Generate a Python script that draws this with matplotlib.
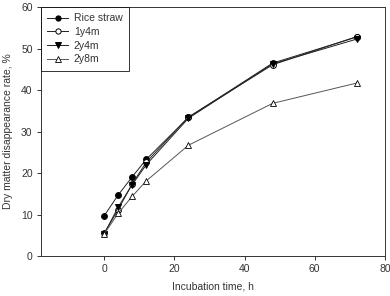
import numpy as np
import matplotlib
matplotlib.use("Agg")
import matplotlib.pyplot as plt

plt.rcParams["font.family"] = ["Liberation Sans", "DejaVu Sans"]

# incubation times (h) and disappearance rates (%)
hours = [0, 4, 8, 12, 24, 48, 72]
rice_straw = [9.7, 14.7, 19.1, 23.3, 33.4, 46.5, 52.8]
y1m4 = [5.5, 11.2, 17.4, 22.6, 33.5, 46.1, 52.9]
y2m4 = [5.3, 11.8, 17.2, 22.0, 33.2, 46.3, 52.3]
y2m8 = [5.3, 10.3, 14.4, 18.1, 26.7, 36.8, 41.7]

fig = plt.figure(figsize=(3.9, 2.96), dpi=100)
ax = fig.add_axes([0.105, 0.135, 0.882, 0.841])

kw = dict(color="#222222", lw=0.7, ms=4.2, mec="black", mew=0.7)
ax.plot(hours, rice_straw, marker="o", mfc="black", label="Rice straw", **kw)
ax.plot(hours, y1m4, marker="o", mfc="white", label="1y4m", **kw)
ax.plot(hours, y2m4, marker="v", mfc="black", label="2y4m", **kw)
ax.plot(hours, y2m8, marker="^", mfc="white", label="2y8m", color="#555555",
        lw=0.7, ms=4.5, mec="black", mew=0.6)

ax.set_xlim(-18, 80)
ax.set_ylim(0, 60)
ax.set_xticks([0, 20, 40, 60, 80])
ax.set_yticks([0, 10, 20, 30, 40, 50, 60])
ax.tick_params(direction="out", length=3, width=0.7, labelsize=7.5, pad=3,
               colors="#333333")
for s in ax.spines.values():
    s.set_linewidth(0.7)
    s.set_color("#333333")

ax.set_xlabel("Incubation time, h", fontsize=7.5, color="#333333", labelpad=5)
ax.set_ylabel("Dry matter disappearance rate, %", fontsize=7.5, color="#333333",
              labelpad=6)

leg = ax.legend(loc="upper left", fontsize=7.5, frameon=True, fancybox=False,
                borderaxespad=0, handlelength=2.0, labelspacing=0.35,
                borderpad=0.6, handletextpad=0.55, markerscale=0.9)
leg.get_frame().set_edgecolor("black")
leg.get_frame().set_linewidth(0.7)
for t in leg.get_texts():
    t.set_color("#333333")

fig.savefig("out.png", dpi=100)
